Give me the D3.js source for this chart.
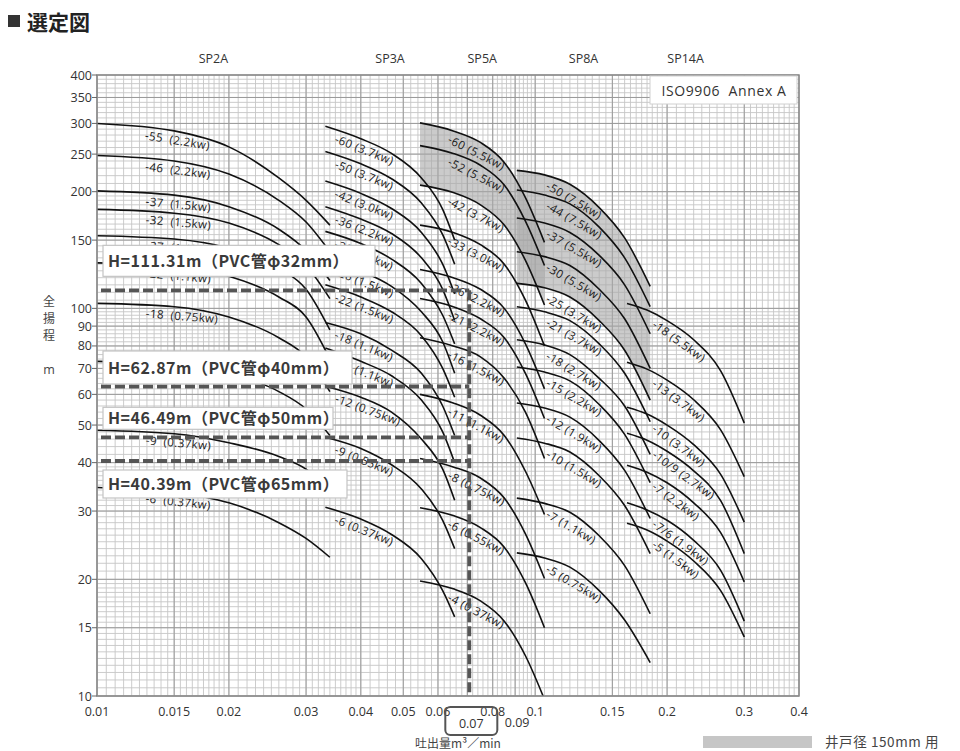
<!DOCTYPE html>
<html>
<head>
<meta charset="utf-8">
<script src="https://cdn.jsdelivr.net/npm/d3@7"></script>
<style>
  body { margin: 0; background: #fff; }
  svg { display: block; font-family: "Open Sans", "Noto Sans", sans-serif; }
</style>
</head>
<body>
<svg width="960" height="751"></svg>
<script>
// ---- data ----
const xTicks = [0.01, 0.015, 0.02, 0.03, 0.04, 0.05, 0.06, 0.08, 0.1, 0.15, 0.2, 0.3, 0.4];
const xTicksLow = [0.07, 0.09];
const yTicks = [10, 15, 20, 30, 40, 50, 60, 70, 80, 90, 100, 150, 200, 250, 300, 350, 400];

// SP2A
const sp2aQ = [0.01, 0.015, 0.02, 0.026, 0.03, 0.034];
const sp2aLabels = ["-55  (2.2kw)", "-46  (2.2kw)", "-37  (1.5kw)", "-32  (1.5kw)", "-27  (1.1kw)", "-22  (1.1kw)",
                    "-18  (0.75kw)", "-15  (0.55kw)", "-9  (0.37kw)", "-6  (0.37kw)"];
const sp2aHeads = [
  [300, 287, 261, 217, 190, 164],
  [248, 240, 222, 190, 167, 140],
  [201, 196, 183, 160, 141, 118],
  [180, 176, 166, 146, 129, 106],
  [154, 151, 143, 127, 112, 88],
  [131, 128, 121, 107, 95, 74],
  [103, 101, 95, 84, 75, 61],
  [73, 72, 68, 61, 55, 47],
  [48.5, 47.5, 45, 41.5, 38.5, 34],
  [34.5, 33.5, 31.5, 28, 25.5, 22.8]
];

// SP3A
const sp3aQ = [0.0332, 0.04, 0.047, 0.055, 0.0615, 0.0655];
const sp3aLabels = ["-60 (3.7kw)", "-50 (3.7kw)", "-42 (3.0kw)", "-36 (2.2kw)", "-30 (2.2kw)", "-26 (1.5kw)",
                    "-22 (1.5kw)", "-18 (1.1kw)", "-15 (1.1kw)", "-12 (0.75kw)", "-9 (0.55kw)", "-6 (0.37kw)"];
const sp3aHeads = [
  [295, 274, 251, 217, 180, 150],
  [254, 236, 216, 187, 155, 130],
  [213, 198, 181, 157, 130, 109],
  [183, 170, 156, 135, 112, 93],
  [158, 147, 134, 116, 96, 81],
  [134, 125, 114, 98, 82, 68],
  [115, 107, 98, 85, 70, 59],
  [92, 86, 78, 68, 56, 47],
  [79, 73, 67, 58, 48, 40],
  [63, 59, 54, 46, 38.5, 32],
  [46.5, 43.5, 39.5, 34.2, 28.4, 24],
  [30.7, 28.6, 26.1, 22.6, 18.7, 16]
];

// SP5A
const sp5aQ = [0.0546, 0.065, 0.075, 0.085, 0.095, 0.105];
const sp5aLabels = ["-60 (5.5kw)", "-52 (5.5kw)", "-42 (3.7kw)", "-33 (3.0kw)", "-26 (2.2kw)", "-21 (2.2kw)",
                    "-16 (1.5kw)", "-11 (1.1kw)", "-8 (0.75kw)", "-6 (0.55kw)", "-4 (0.37kw)"];
const sp5aHeads = [
  [301, 287, 268, 238, 193, 148],
  [263, 251, 234, 208, 168, 129],
  [208, 199, 185, 164, 133, 102],
  [164, 157, 146, 130, 105, 80],
  [126, 120, 112, 100, 81, 62],
  [106, 101, 94, 84, 68, 52],
  [84, 80, 75, 66, 54, 41],
  [60, 57, 53, 47, 38, 29.4],
  [41, 39, 36.5, 32.4, 26.2, 20.1],
  [30.6, 29.2, 27.2, 24.2, 19.6, 15],
  [19.8, 18.9, 17.6, 15.6, 12.7, 9.8]
];

// SP8A
const sp8aQ = [0.0908, 0.105, 0.12, 0.14, 0.16, 0.183];
const sp8aLabels = ["-50 (7.5kw)", "-44 (7.5kw)", "-37 (5.5kw)", "-30 (5.5kw)", "-25 (3.7kw)", "-21 (3.7kw)",
                    "-18 (2.7kw)", "-15 (2.2kw)", "-12 (1.9kw)", "-10 (1.5kw)", "-7 (1.1kw)", "-5 (0.75kw)"];
const sp8aHeads = [
  [227, 221, 209, 182, 152, 114],
  [202, 196, 186, 162, 135, 101],
  [171, 166, 157, 137, 115, 86],
  [140, 136, 129, 112, 94, 70],
  [116, 113, 107, 93, 78, 58],
  [101, 98, 93, 81, 68, 51],
  [83, 80.5, 76, 66, 56, 42],
  [70.6, 68.5, 65, 56.5, 47.3, 35.5],
  [57, 55.3, 52.4, 45.6, 38.2, 28.7],
  [46.3, 44.9, 42.6, 37, 31, 23.3],
  [32.4, 31.4, 29.8, 25.9, 21.7, 16.3],
  [23.4, 22.7, 21.5, 18.7, 15.7, 12.2]
];

// SP14A
const sp14aQ = [0.162, 0.18, 0.2, 0.23, 0.265, 0.3];
const sp14aLabels = ["-18 (5.5kw)", "-13 (3.7kw)", "-10 (3.7kw)", "-10/9 (2.7kw)", "-7 (2.2kw)", "-7/6 (1.9kw)", "-5 (1.5kw)"];
const sp14aHeads = [
  [103, 99, 93, 83, 69, 50.6],
  [72.6, 69.7, 65.3, 58.1, 48.6, 36.8],
  [55.6, 53.4, 50, 44.5, 37.3, 28.1],
  [47.6, 45.7, 42.8, 38.1, 31.9, 23.3],
  [39.4, 37.8, 35.5, 31.5, 26.4, 19.7],
  [31.5, 30.2, 28.4, 25.2, 21.1, 15.6],
  [27.9, 26.8, 25.1, 22.3, 18.7, 14.2]
];

// shaded zones (well diameter 150mm)
const shadeModel = ["SP5A", "SP8A"];
const shadeTop = ["-60 (5.5kw)", "-50 (7.5kw)"];
const shadeBottom = ["-42 (3.7kw)", "-25 (3.7kw)"];

// duty point / pipe losses
const dutyFlow = 0.07;
const pipeHeads = [111.31, 62.87, 46.49, 40.39];
const pipeSizes = [32, 40, 50, 65];

// ---- chart ----
const families = [
  { name: "SP2A", q: sp2aQ, labels: sp2aLabels, heads: sp2aHeads, lab: 0.2 },
  { name: "SP3A", q: sp3aQ, labels: sp3aLabels, heads: sp3aHeads, lab: 0.08 },
  { name: "SP5A", q: sp5aQ, labels: sp5aLabels, heads: sp5aHeads, lab: 0.24 },
  { name: "SP8A", q: sp8aQ, labels: sp8aLabels, heads: sp8aHeads, lab: 0.24 },
  { name: "SP14A", q: sp14aQ, labels: sp14aLabels, heads: sp14aHeads, lab: 0.25 }
];

const svg = d3.select('svg');
const x = d3.scaleLog().domain([0.01, 0.4]).range([97, 799]);
const y = d3.scaleLog().domain([10, 400]).range([696, 75]);
const pL = 97, pR = 799, pT = 75, pB = 696;

svg.append('defs').append('clipPath').attr('id', 'plot')
  .append('rect').attr('x', pL).attr('y', pT).attr('width', pR - pL).attr('height', pB - pT);

// minor grid
const xMinor = [].concat(d3.range(0.01, 0.02, 0.0005), d3.range(0.02, 0.04, 0.001),
  d3.range(0.04, 0.1, 0.002), d3.range(0.1, 0.2, 0.005), d3.range(0.2, 0.4, 0.01));
const yMinor = [].concat(d3.range(10, 20, 0.5), d3.range(20, 40, 1), d3.range(40, 100, 2),
  d3.range(100, 200, 5), d3.range(200, 400, 10));

const grid = svg.append('g');
grid.selectAll('.gx').data(xMinor).enter().append('line')
  .attr('x1', d => x(d)).attr('x2', d => x(d)).attr('y1', pT).attr('y2', pB)
  .attr('stroke', '#c6c6c6').attr('stroke-width', 0.9);
grid.selectAll('.gy').data(yMinor).enter().append('line')
  .attr('y1', d => y(d)).attr('y2', d => y(d)).attr('x1', pL).attr('x2', pR)
  .attr('stroke', '#c6c6c6').attr('stroke-width', 0.9);
grid.selectAll('.mx').data(xTicks.concat(xTicksLow)).enter().append('line')
  .attr('x1', d => x(d)).attr('x2', d => x(d)).attr('y1', pT).attr('y2', pB)
  .attr('stroke', '#9a9a9a').attr('stroke-width', 1);
grid.selectAll('.my').data(yTicks).enter().append('line')
  .attr('y1', d => y(d)).attr('y2', d => y(d)).attr('x1', pL).attr('x2', pR)
  .attr('stroke', '#9a9a9a').attr('stroke-width', 1);

const line = d3.line().x(d => x(d[0])).y(d => y(d[1])).curve(d3.curveMonotoneX);
const area = d3.area().x(d => x(d[0])).y0(d => y(d[2])).y1(d => y(d[1])).curve(d3.curveMonotoneX);

// shaded zones
const plot = svg.append('g').attr('clip-path', 'url(#plot)');
shadeModel.forEach((m, i) => {
  const f = families.find(d => d.name === m);
  const t = f.heads[f.labels.indexOf(shadeTop[i])];
  const b = f.heads[f.labels.indexOf(shadeBottom[i])];
  plot.append('path')
    .attr('d', area(f.q.map((q, k) => [q, t[k], b[k]])))
    .attr('fill', '#a9a9a9').attr('opacity', 0.6);
});

// curves + labels
function pointAt(node, px) {
  const len = node.getTotalLength();
  let lo = 0, hi = len;
  for (let i = 0; i < 24; i++) {
    const mid = (lo + hi) / 2;
    if (node.getPointAtLength(mid).x < px) lo = mid; else hi = mid;
  }
  return node.getPointAtLength(lo);
}

families.forEach(f => {
  const qa = f.q[0], qb = f.q[f.q.length - 1];
  const qLab = qa * Math.pow(qb / qa, f.lab);
  f.heads.forEach((h, i) => {
    const p = plot.append('path')
      .attr('d', line(f.q.map((q, k) => [q, h[k]])))
      .attr('fill', 'none').attr('stroke', '#111').attr('stroke-width', 1.6);
    const node = p.node();
    const xs = x(qLab);
    const p1 = pointAt(node, xs);
    const p2 = pointAt(node, Math.min(xs + 45, x(qb) - 1));
    const a = Math.atan2(p2.y - p1.y, p2.x - p1.x) * 180 / Math.PI;
    plot.append('text')
      .attr('transform', `translate(${p1.x},${p1.y}) rotate(${a})`)
      .attr('x', 3).attr('y', 12.5)
      .attr('font-size', 11.5).attr('letter-spacing', 0.4)
      .style('white-space', 'pre')
      .attr('fill', '#1a1a1a')
      .text(f.labels[i]);
  });
});

// family names on top
svg.selectAll('.fam').data(families).enter().append('text')
  .attr('x', d => x(Math.sqrt(d.q[0] * d.q[d.q.length - 1])))
  .attr('y', 63).attr('text-anchor', 'middle')
  .attr('font-size', 12.5).attr('fill', '#333')
  .text(d => d.name);

// dashed duty lines
const dash = svg.append('g').attr('stroke', '#555').attr('stroke-width', 3.8)
  .attr('stroke-dasharray', '10,4').attr('fill', 'none');
pipeHeads.forEach(h => {
  dash.append('line').attr('x1', x(0.01) + 4).attr('x2', x(dutyFlow) + 2)
    .attr('y1', y(h)).attr('y2', y(h));
});
dash.append('line').attr('x1', x(dutyFlow) + 2).attr('x2', x(dutyFlow) + 2)
  .attr('y1', y(d3.max(pipeHeads))).attr('y2', pB);

// note boxes
const noteDy = [-45, -35.5, -30, 9];
const noteH = [31, 33, 22, 28];
const noteW = [272, 249, 230, 244];
pipeHeads.forEach((h, i) => {
  const ty = y(h) + noteDy[i];
  svg.append('rect').attr('x', 103).attr('y', ty).attr('width', noteW[i]).attr('height', noteH[i])
    .attr('fill', '#fff').attr('stroke', '#c4c4c4').attr('stroke-width', 1.2);
  svg.append('text').attr('x', 108).attr('y', ty + noteH[i] / 2 + 6)
    .attr('font-family', '"Noto Sans CJK JP", sans-serif').attr('font-weight', 'bold')
    .attr('font-size', 16).attr('fill', '#3a3a3a').attr('letter-spacing', 0.5)
    .text(`H=${h}m（PVC管φ${pipeSizes[i]}mm）`);
});

// frame
svg.append('rect').attr('x', pL).attr('y', pT).attr('width', pR - pL).attr('height', pB - pT)
  .attr('fill', 'none').attr('stroke', '#8a8a8a').attr('stroke-width', 1.5);

// ISO box
svg.append('rect').attr('x', 650).attr('y', 76).attr('width', 147).attr('height', 28)
  .attr('fill', '#fff').attr('stroke', '#d0d0d0');
svg.append('text').attr('x', 724).attr('y', 95.5).attr('text-anchor', 'middle')
  .attr('font-size', 14).attr('letter-spacing', 0.6).attr('fill', '#333')
  .style('white-space', 'pre').text('ISO9906  Annex A');

// y axis
svg.selectAll('.yt').data(yTicks).enter().append('line')
  .attr('x1', pL - 5).attr('x2', pL).attr('y1', d => y(d)).attr('y2', d => y(d))
  .attr('stroke', '#666');
svg.selectAll('.yl').data(yTicks).enter().append('text')
  .attr('x', pL - 5).attr('y', d => y(d) + 4.5).attr('text-anchor', 'end')
  .attr('font-size', 12.5).attr('fill', '#333').text(d => d);

// x axis
svg.selectAll('.xl').data(xTicks).enter().append('text')
  .attr('x', d => x(d)).attr('y', 716).attr('text-anchor', 'middle')
  .attr('font-size', 12.5).attr('fill', '#333').text(d => d);
svg.append('text').attr('x', x(0.09) + 2).attr('y', 727).attr('text-anchor', 'middle')
  .attr('font-size', 12.5).attr('fill', '#333').text(0.09);
svg.append('rect').attr('x', x(dutyFlow) - 22).attr('y', 707).attr('width', 52).attr('height', 28)
  .attr('rx', 5).attr('fill', 'none').attr('stroke', '#555').attr('stroke-width', 2);
svg.append('text').attr('x', x(dutyFlow) + 4).attr('y', 728).attr('text-anchor', 'middle')
  .attr('font-size', 12.5).attr('fill', '#333').text(dutyFlow);

svg.append('text').attr('x', 458).attr('y', 748).attr('text-anchor', 'middle')
  .attr('font-family', '"Noto Sans CJK JP", sans-serif')
  .attr('font-size', 12).attr('fill', '#444').text('吐出量m³／min');

// y title, one glyph per line
['全', '揚', '程'].forEach((c, i) => {
  svg.append('text').attr('x', 49).attr('y', 306 + i * 17).attr('text-anchor', 'middle')
    .attr('font-family', '"Noto Sans CJK JP", sans-serif')
    .attr('font-size', 12).attr('fill', '#444').text(c);
});
svg.append('text').attr('x', 49).attr('y', 374).attr('text-anchor', 'middle')
  .attr('font-size', 12.5).attr('fill', '#444').text('m');

// title
svg.append('rect').attr('x', 8).attr('y', 15).attr('width', 12).attr('height', 12).attr('fill', '#333');
svg.append('text').attr('x', 27).attr('y', 30)
  .attr('font-family', '"Noto Sans CJK JP", sans-serif').attr('font-weight', 'bold')
  .attr('font-size', 21).attr('fill', '#222').text('選定図');

// legend
svg.append('rect').attr('x', 703).attr('y', 736).attr('width', 109).attr('height', 12).attr('fill', '#c6c6c6');
svg.append('text').attr('x', 825).attr('y', 747)
  .attr('font-family', '"Noto Sans CJK JP", sans-serif')
  .attr('font-size', 13.5).attr('letter-spacing', 0.6).attr('fill', '#444').text('井戸径 150mm 用');
</script>
</body>
</html>
